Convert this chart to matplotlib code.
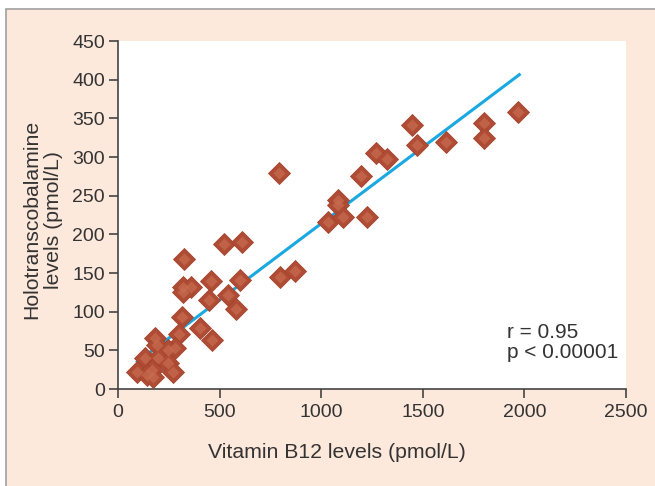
import numpy as np
import matplotlib
matplotlib.use('Agg')
from matplotlib import pyplot as plt
from matplotlib.patches import Rectangle

plt.rcParams['font.family'] = ['Liberation Sans', 'DejaVu Sans']

# vitamin B12 (x) vs holotranscobalamine (y)
b12 = [1968, 1801, 1801, 1614, 1447, 1471, 1270, 1324, 1196, 1083, 1083,
       1033, 1107, 1225, 792, 797, 871, 522, 610, 600, 458, 541, 581, 448,
       325, 320, 359, 320, 315, 300, 404, 463, 182, 192, 280, 246, 133,
       197, 246, 93, 167, 143, 172, 271]
holo = [358, 344, 325, 319, 341, 316, 305, 297, 275, 244, 238,
        216, 222, 222, 279, 145, 153, 188, 190, 141, 140, 122, 103, 115,
        168, 132, 132, 125, 93, 71, 79, 63, 66, 57, 53, 50, 40,
        40, 34, 22, 25, 18, 16, 22]

# regression line as drawn
fit_intercept = 16.4
fit_slope = 0.1975
fit_range = [95, 1975]

xticks = [0, 500, 1000, 1500, 2000, 2500]
yticks = [0, 50, 100, 150, 200, 250, 300, 350, 400, 450]

fig = plt.figure(figsize=(6.55, 4.86), dpi=100)
fig.patch.set_facecolor('white')
# peach panel with grey frame
fig.patches.append(Rectangle((6/655, -0.05), 1.2, (486-9)/486 + 0.05,
                             transform=fig.transFigure, facecolor='#fde8dc',
                             edgecolor='#a0a0a0', linewidth=1.2, zorder=-5))

ax = fig.add_axes([118/655, 97/486, 508/655, 348/486])
ax.set_zorder(2)
ax.set_facecolor('white')

fx = np.array(fit_range)
ax.plot(fx, fit_intercept + fit_slope*fx, color='#19a8e0', lw=2.2, zorder=2)

# diamonds: darker rim, lighter centre
ax.plot(b12, holo, 'D', ms=10.8, color='#b04c35', mec='#a2432e', mew=0.6, zorder=3)
ax.plot(b12, holo, 'D', ms=6, color='#c86c50', mec='none', alpha=0.7, zorder=4)

ax.set_xlim(0, 2500)
ax.set_ylim(0, 450)
ax.set_xticks(xticks)
ax.set_yticks(yticks)
for s in ['top', 'right']:
    ax.spines[s].set_visible(False)
for s in ['left', 'bottom']:
    ax.spines[s].set_color('#444444')
    ax.spines[s].set_linewidth(1.2)
ax.tick_params(direction='out', length=6.5, width=1.2, color='#444444',
               labelsize=14, labelcolor='#333333')
ax.tick_params(axis='x', pad=4.5)
ax.tick_params(axis='y', pad=3)

ax.set_xlabel('Vitamin B12 levels (pmol/L)', fontsize=15.3, color='#333333')
ax.xaxis.set_label_coords(0.431, -0.155)
ax.set_ylabel('Holotranscobalamine\nlevels (pmol/L)', fontsize=15.3,
              color='#333333', linespacing=1.2)
ax.yaxis.set_label_coords(-0.108, 0.486)

ax.text(0.766, 0.19, 'r = 0.95\np < 0.00001', transform=ax.transAxes,
        fontsize=15, color='#333333', va='top', linespacing=1.05)

fig.savefig('out.png', dpi=100)
